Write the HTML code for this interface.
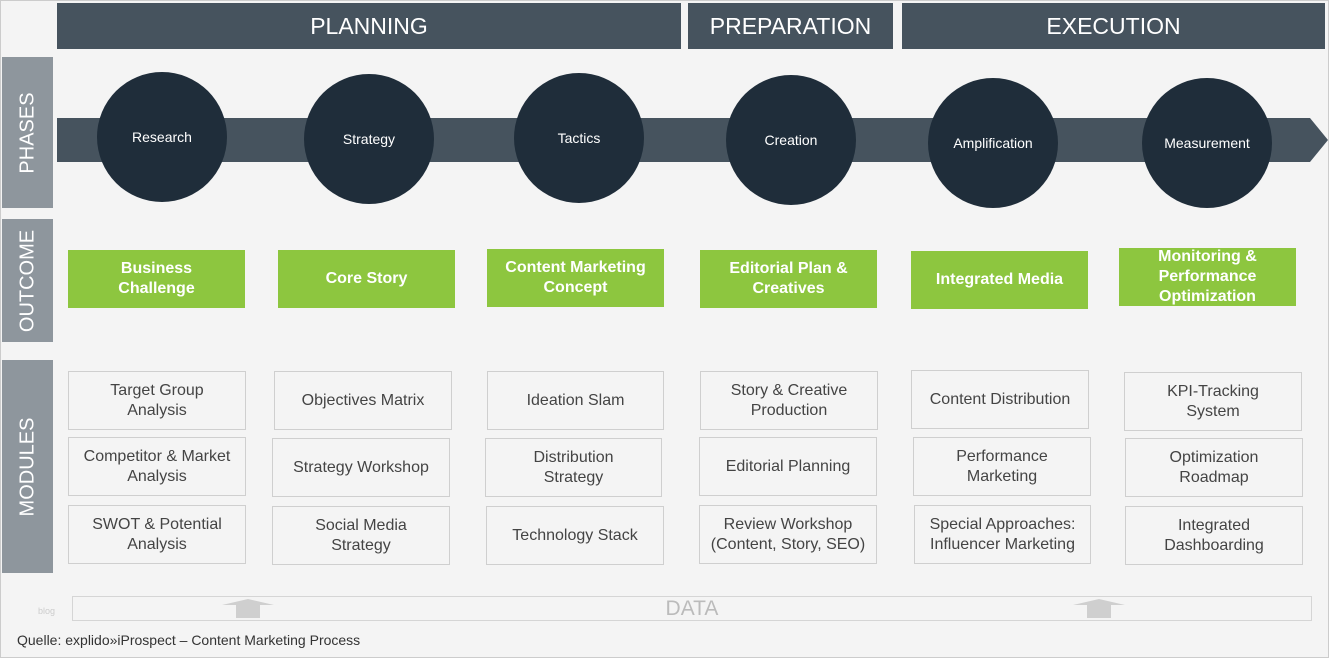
<!DOCTYPE html>
<html><head><style>
body{margin:0;width:1329px;height:658px;background:#f4f4f4;font-family:"Liberation Sans",Arial,sans-serif;position:relative;overflow:hidden}
.a{position:absolute;box-sizing:border-box}
.hdr{background:#46535e;color:#fff;font-size:23px;display:flex;align-items:center;justify-content:center;top:3px;height:46px}
.side{background:#8e969d;left:2px;width:51px}
.side span{position:absolute;left:50%;top:50%;transform:translate(-50%,-50%) rotate(-90deg);color:#fff;font-size:20px;white-space:nowrap}
.c{width:130px;height:130px;border-radius:50%;background:#1f2d3a;color:#fff;font-size:14px;display:flex;align-items:center;justify-content:center}
.g{background:#8dc63f;color:#fff;font-weight:bold;font-size:16px;width:177px;height:58px;display:flex;align-items:center;justify-content:center;text-align:center;line-height:20px}
.m{border:1px solid #cfcfcf;color:#444;font-size:16px;display:flex;align-items:center;justify-content:center;text-align:center;line-height:20px;height:59px}
</style></head><body>
<div class="a" style="left:0;top:0;width:1329px;height:658px;border:1px solid #ccc"></div>
<div class="a hdr" style="left:57px;width:624px">PLANNING</div>
<div class="a hdr" style="left:688px;width:205px">PREPARATION</div>
<div class="a hdr" style="left:902px;width:423px">EXECUTION</div>
<div class="a side" style="top:57px;height:151px"><span>PHASES</span></div>
<div class="a side" style="top:219px;height:123px"><span>OUTCOME</span></div>
<div class="a side" style="top:360px;height:213px"><span>MODULES</span></div>
<svg class="a" style="left:0;top:0" width="1329" height="200"><polygon points="57,118 1310,118 1328,140 1310,162 57,162" fill="#46535e"/></svg>
<div class="a c" style="left:97px;top:72px">Research</div>
<div class="a c" style="left:304px;top:74px">Strategy</div>
<div class="a c" style="left:514px;top:73px">Tactics</div>
<div class="a c" style="left:726px;top:75px">Creation</div>
<div class="a c" style="left:928px;top:78px">Amplification</div>
<div class="a c" style="left:1142px;top:78px">Measurement</div>
<div class="a g" style="left:68px;top:250px">Business<br>Challenge</div>
<div class="a g" style="left:278px;top:250px">Core Story</div>
<div class="a g" style="left:487px;top:249px">Content Marketing<br>Concept</div>
<div class="a g" style="left:700px;top:250px">Editorial Plan &amp;<br>Creatives</div>
<div class="a g" style="left:911px;top:251px">Integrated Media</div>
<div class="a g" style="left:1119px;top:248px">Monitoring &amp;<br>Performance<br>Optimization</div>
<div class="a m" style="left:68px;top:371px;width:178px">Target Group<br>Analysis</div>
<div class="a m" style="left:68px;top:437px;width:178px">Competitor &amp; Market<br>Analysis</div>
<div class="a m" style="left:68px;top:505px;width:178px">SWOT &amp; Potential<br>Analysis</div>
<div class="a m" style="left:274px;top:371px;width:178px">Objectives Matrix</div>
<div class="a m" style="left:272px;top:438px;width:178px">Strategy Workshop</div>
<div class="a m" style="left:272px;top:506px;width:178px">Social Media<br>Strategy</div>
<div class="a m" style="left:487px;top:371px;width:177px">Ideation Slam</div>
<div class="a m" style="left:485px;top:438px;width:177px">Distribution<br>Strategy</div>
<div class="a m" style="left:486px;top:506px;width:178px">Technology Stack</div>
<div class="a m" style="left:700px;top:371px;width:178px">Story &amp; Creative<br>Production</div>
<div class="a m" style="left:699px;top:437px;width:178px">Editorial Planning</div>
<div class="a m" style="left:699px;top:505px;width:178px">Review Workshop<br>(Content, Story, SEO)</div>
<div class="a m" style="left:911px;top:370px;width:178px">Content Distribution</div>
<div class="a m" style="left:913px;top:437px;width:178px">Performance<br>Marketing</div>
<div class="a m" style="left:914px;top:505px;width:177px">Special Approaches:<br>Influencer Marketing</div>
<div class="a m" style="left:1124px;top:372px;width:178px">KPI-Tracking<br>System</div>
<div class="a m" style="left:1125px;top:438px;width:178px">Optimization<br>Roadmap</div>
<div class="a m" style="left:1125px;top:506px;width:178px">Integrated<br>Dashboarding</div>
<div class="a" style="left:72px;top:596px;width:1240px;height:25px;border:1px solid #d5d5d5;color:#bbb;font-size:21px;text-align:center;line-height:23px">DATA</div>
<div class="a" style="left:38px;top:606px;font-size:9px;color:#ccc">blog</div>
<svg class="a" style="left:0;top:596px" width="1329" height="26"><polygon points="222,9 248,3 274,9 260,9 260,22 236,22 236,9" fill="#cfcfcf"/><polygon points="1073,9 1099,3 1125,9 1111,9 1111,22 1087,22 1087,9" fill="#cfcfcf"/></svg>
<div class="a" style="left:17px;top:632px;font-size:14px;color:#333">Quelle: explido»iProspect – Content Marketing Process</div>
</body></html>
